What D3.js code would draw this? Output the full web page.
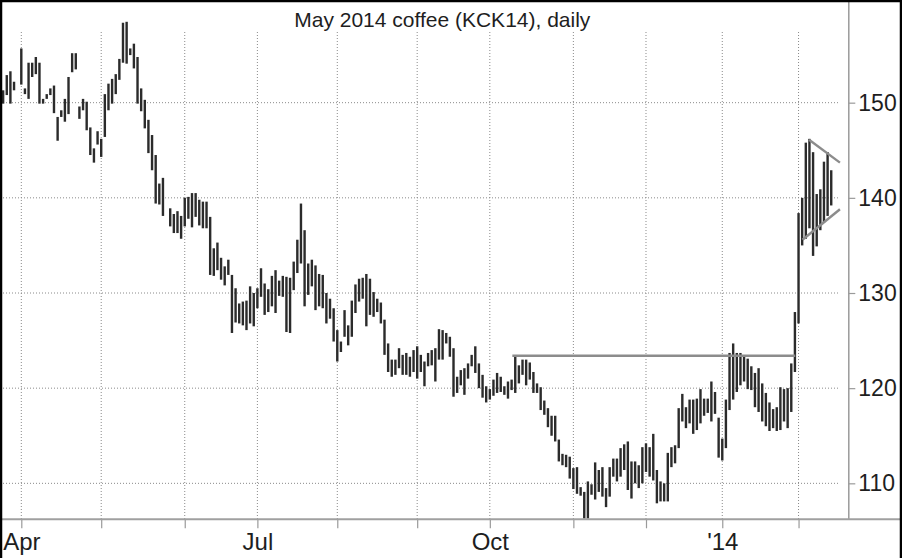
<!DOCTYPE html>
<html>
<head>
<meta charset="utf-8">
<script src="https://cdn.jsdelivr.net/npm/d3@7"></script>
<style>
  html, body { margin: 0; padding: 0; background: #fff; }
  svg { display: block; font-family: "Liberation Sans", Arial, sans-serif; }
</style>
</head>
<body>
<svg id="chart" width="902" height="558"></svg>
<script>
// ---- Data ----
const title = "May 2014 coffee (KCK14), daily";

// Daily highs and lows, one entry per trading slot (null = gap)
const highs = [
  151.3,152.9,153.3,152.2,null,155.7,151.5,154.2,154.2,154.8,
  154.2,150.4,150.9,151.5,151.8,148.5,149.2,150.4,152.7,155.2,
  155.2,149.6,150.4,150.1,147.4,145.2,147.0,146.2,150.9,152.0,
  152.5,153.0,154.6,158.4,158.5,155.7,156.2,154.8,151.5,150.3,
  148.2,146.6,144.5,141.5,142.1,null,138.9,138.3,138.6,138.1,
  140.0,140.1,140.5,140.5,139.8,139.6,139.6,138.0,134.7,135.3,
  133.7,132.8,133.5,131.9,130.5,128.9,129.1,129.2,130.7,130.0,
  130.5,132.6,131.0,130.4,131.8,132.4,131.3,131.8,131.7,131.6,
  133.3,135.6,139.4,136.6,133.1,133.5,132.9,132.0,131.9,130.0,
  129.4,128.4,126.1,124.9,128.2,126.6,129.2,130.9,131.5,131.6,
  132.0,131.5,130.1,129.4,129.0,127.2,124.7,123.0,123.0,124.2,
  123.5,123.7,123.3,124.0,124.4,123.5,122.8,123.7,124.0,124.2,
  126.2,126.1,125.8,125.4,124.2,121.2,121.9,122.1,122.6,123.5,
  124.4,122.6,121.4,120.2,119.9,120.9,121.6,121.2,120.2,120.7,
  120.9,123.3,122.4,123.0,123.0,122.7,121.7,120.5,120.1,118.7,
  117.9,117.1,117.1,114.6,113.1,113.0,112.8,111.6,111.7,109.6,
  109.1,110.2,109.9,112.2,111.4,111.7,109.5,111.7,112.6,112.6,
  113.7,114.1,114.4,112.3,112.3,111.9,113.8,114.2,113.8,115.2,
  111.4,110.2,110.0,113.2,113.8,114.0,117.9,119.4,118.0,118.8,
  118.8,118.9,119.9,118.9,118.9,120.7,119.6,116.9,114.7,118.8,
  123.7,124.7,123.7,123.7,123.3,123.1,122.3,121.6,122.1,120.5,
  119.5,118.5,117.8,118.0,120.1,119.9,120.0,122.6,128.0,138.4,
  140.0,145.8,146.2,144.8,140.4,140.9,143.8,144.8,142.9
];
const lows = [
  149.9,150.8,149.9,151.3,null,151.9,150.9,150.4,152.7,153.0,
  149.9,149.9,150.4,150.8,148.9,146.0,148.5,148.0,148.8,153.2,
  153.5,148.3,149.2,147.1,144.5,143.7,145.6,144.3,146.4,149.2,
  149.9,150.9,152.4,154.2,154.1,155.0,153.6,149.9,149.1,147.3,
  144.7,142.9,139.4,139.3,138.1,null,137.0,136.3,136.3,135.7,
  137.0,137.8,136.9,138.0,137.1,136.8,136.8,131.9,131.8,132.4,
  131.4,130.8,131.9,125.8,126.9,126.8,126.6,126.1,126.8,126.5,
  128.4,129.6,127.7,128.0,128.6,127.9,129.7,129.6,125.9,125.8,
  130.3,132.1,133.1,128.6,129.8,130.7,128.2,128.6,128.4,126.8,
  127.3,124.9,122.8,123.8,125.4,124.5,125.4,127.9,129.1,129.4,
  126.5,127.7,127.5,128.0,126.8,123.5,121.7,121.2,121.4,122.1,
  121.4,121.4,121.2,121.7,121.0,121.7,120.2,122.3,122.4,120.7,
  123.0,123.0,124.7,123.3,119.1,119.5,120.3,119.3,121.0,122.3,
  121.6,120.0,119.0,118.5,118.8,119.2,119.5,119.6,119.3,118.9,
  119.8,119.5,120.5,121.4,120.3,120.9,119.5,119.5,117.7,117.2,
  115.9,115.0,114.4,112.3,111.9,111.7,110.5,109.4,108.9,108.7,
  106.3,106.3,108.8,108.3,109.1,108.6,107.5,108.6,110.7,110.2,
  110.7,111.4,109.3,108.4,110.0,109.5,110.0,111.2,110.7,110.3,
  107.9,108.1,108.1,108.1,111.7,112.1,113.7,116.5,115.8,116.3,
  115.2,115.6,116.3,117.1,117.4,116.5,117.3,112.7,112.4,113.7,
  117.7,118.8,119.6,120.3,120.7,119.9,119.8,118.0,117.5,116.5,
  116.0,115.5,115.8,115.5,115.6,116.5,115.8,117.5,121.7,126.8,
  135.0,135.7,136.8,133.9,134.9,136.6,137.4,138.1,139.2
];

// Month boundaries (slot index of first bar of each month) and their labels
const monthSlots  = [5, 27, 50, 70, 92, 114, 134, 157, 177, 198, 219];
const monthLabels = ["Apr", "", "", "Jul", "", "", "Oct", "", "", "'14", ""];

// Price axis ticks
const priceTicks = [110, 120, 130, 140, 150];

// Annotation lines (slot, price)
const resistance = [[140.2, 123.4], [218.1, 123.4]];
const pennantUpper = [[221.9, 146.1], [230.4, 143.7]];
const pennantLower = [[220.1, 135.6], [230.4, 138.8]];

// ---- Drawing ----
const W = 902, H = 558;
const svg = d3.select("#chart");

const plotRight = 848.3, plotBottom = 519.3;
const x = d3.scaleLinear().domain([-0.865, 232.7]).range([0, plotRight]);
const y = d3.scaleLinear().domain([106.22, 160.79]).range([plotBottom, 0]);

const gridColor = "#8a8a8a";

// horizontal dotted gridlines
svg.append("g").selectAll("line").data(priceTicks).join("line")
  .attr("x1", 0).attr("x2", 840)
  .attr("y1", d => y(d)).attr("y2", d => y(d))
  .attr("stroke", gridColor).attr("stroke-width", 1)
  .attr("stroke-dasharray", "1,2");

// vertical dotted gridlines
svg.append("g").selectAll("line").data(monthSlots).join("line")
  .attr("x1", d => x(d)).attr("x2", d => x(d))
  .attr("y1", 32).attr("y2", plotBottom)
  .attr("stroke", gridColor).attr("stroke-width", 1)
  .attr("stroke-dasharray", "1,2");

// bars
const bars = highs.map((h, i) => ({ i, h, l: lows[i] })).filter(d => d.h != null);
svg.append("g").selectAll("rect").data(bars).join("rect")
  .attr("x", d => x(d.i) - 1.2)
  .attr("width", 2.4)
  .attr("y", d => y(d.h))
  .attr("height", d => Math.max(1, y(d.l) - y(d.h)))
  .attr("fill", "#2b2b2b");

// annotation lines
const lineGen = d3.line().x(d => x(d[0])).y(d => y(d[1]));
[resistance, pennantUpper, pennantLower].forEach(seg => {
  svg.append("path").attr("d", lineGen(seg))
    .attr("fill", "none").attr("stroke", "#8c8c8c").attr("stroke-width", 2.4);
});

// right axis
const yAxis = d3.axisRight(y).tickValues(priceTicks).tickSize(7).tickPadding(3).tickSizeOuter(0);
const gy = svg.append("g").attr("transform", `translate(${plotRight},0)`).call(yAxis);
gy.select(".domain").attr("stroke", "#9a9a9a").attr("stroke-width", 1.5);
gy.selectAll(".tick line").attr("stroke", "#9a9a9a").attr("stroke-width", 1.2);
gy.selectAll(".tick text").attr("font-size", 23).attr("fill", "#1e1e1e")
  .attr("font-family", "Liberation Sans, Arial, sans-serif");

// bottom axis
const xAxis = d3.axisBottom(x).tickValues(monthSlots)
  .tickFormat((d, i) => monthLabels[i]).tickSize(9).tickPadding(5).tickSizeOuter(0);
const gx = svg.append("g").attr("transform", `translate(0,${plotBottom})`).call(xAxis);
gx.select(".domain").remove();
gx.selectAll(".tick line").attr("stroke", "#9a9a9a").attr("stroke-width", 1.2);
gx.selectAll(".tick text").attr("font-size", 24).attr("fill", "#1e1e1e")
  .attr("font-family", "Liberation Sans, Arial, sans-serif");
svg.append("line").attr("x1", 0).attr("x2", 900)
  .attr("y1", plotBottom).attr("y2", plotBottom)
  .attr("stroke", "#a0a0a0").attr("stroke-width", 2);

// title
svg.append("text").attr("x", 442.3).attr("y", 26.5)
  .attr("text-anchor", "middle").attr("font-size", 21).attr("fill", "#1e1e1e")
  .text(title);

// frame
svg.append("path").attr("d", `M1,${H} V1 H${W - 1} V${H}`)
  .attr("fill", "none").attr("stroke", "#000").attr("stroke-width", 2.5);
</script>
</body>
</html>
